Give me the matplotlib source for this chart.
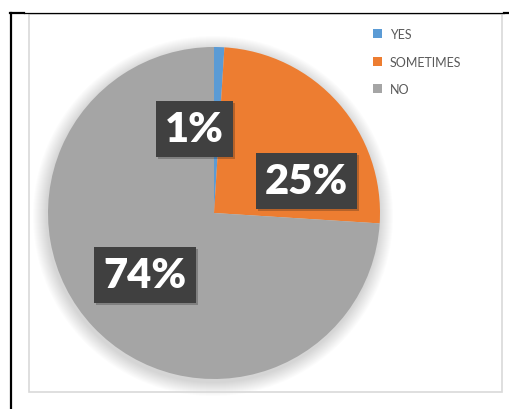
import numpy as np
import matplotlib.pyplot as plt
from matplotlib.patches import Circle, Rectangle
from matplotlib.lines import Line2D
import matplotlib.patheffects as pe

plt.rcParams['font.family'] = ['Lato', 'DejaVu Sans']

labels = ['YES', 'SOMETIMES', 'NO']
values = [1, 25, 74]
colors = ['#5b9bd5', '#ed7d31', '#a5a5a5']

# where each percentage box sits: (angle in degrees, fraction of radius)
label_spots = [(103, 0.52), (19, 0.59), (222, 0.56)]

W, H = 509, 410
fig = plt.figure(figsize=(W / 100, H / 100), dpi=100)
ax = fig.add_axes([0, 0, 1, 1])

cx, cy, r = 214, H - 214, 166

# soft shadow under the pie
for i in range(14):
    ax.add_patch(Circle((cx - 1, cy - 3), r + 14 - i, color='black',
                        alpha=0.012, lw=0, zorder=0))

wedges, _, autotexts = ax.pie(values, colors=colors, startangle=90, counterclock=False,
                              center=(cx, cy), radius=r, autopct='%1.0f%%',
                              wedgeprops=dict(linewidth=0), frame=True)

for t, (ang, frac) in zip(autotexts, label_spots):
    a = np.deg2rad(ang)
    t.set_position((cx + frac * r * np.cos(a), cy + frac * r * np.sin(a)))
    t.set_color('white')
    t.set_fontsize(30)
    t.set_fontweight('heavy')
    t.set_bbox(dict(boxstyle='square,pad=0.22', facecolor='#404040', edgecolor='none'))
    t.get_bbox_patch().set_path_effects([pe.withSimplePatchShadow(offset=(1.5, -1.5),
                                                                  alpha=0.25), pe.Normal()])

# chart area border and the page lines around it
ax.add_patch(Rectangle((29, H - 393), 473, 378, fill=False, edgecolor='#d9d9d9', lw=1.2, zorder=1))
ax.add_line(Line2D([11, 11], [0, H - 14], color='black', lw=1.6))
ax.add_line(Line2D([10, 24], [H - 14, H - 14], color='black', lw=1.6))
ax.add_line(Line2D([24, 504], [H - 13.5, H - 13.5], color='black', lw=0.9))
ax.add_line(Line2D([504, 509], [H - 14, H - 14], color='black', lw=1.6))

leg = ax.legend(wedges, labels, loc='upper left', bbox_to_anchor=(373 / W, 1 - 29 / H),
                frameon=False, fontsize=9, handlelength=0.75, handleheight=0.75,
                handletextpad=0.6, labelspacing=1.25, borderpad=0, borderaxespad=0)
for txt in leg.get_texts():
    txt.set_color('#595959')

ax.set_xlim(0, W)
ax.set_ylim(0, H)
ax.set_aspect('auto')
ax.axis('off')

fig.savefig('out.png', dpi=100)
